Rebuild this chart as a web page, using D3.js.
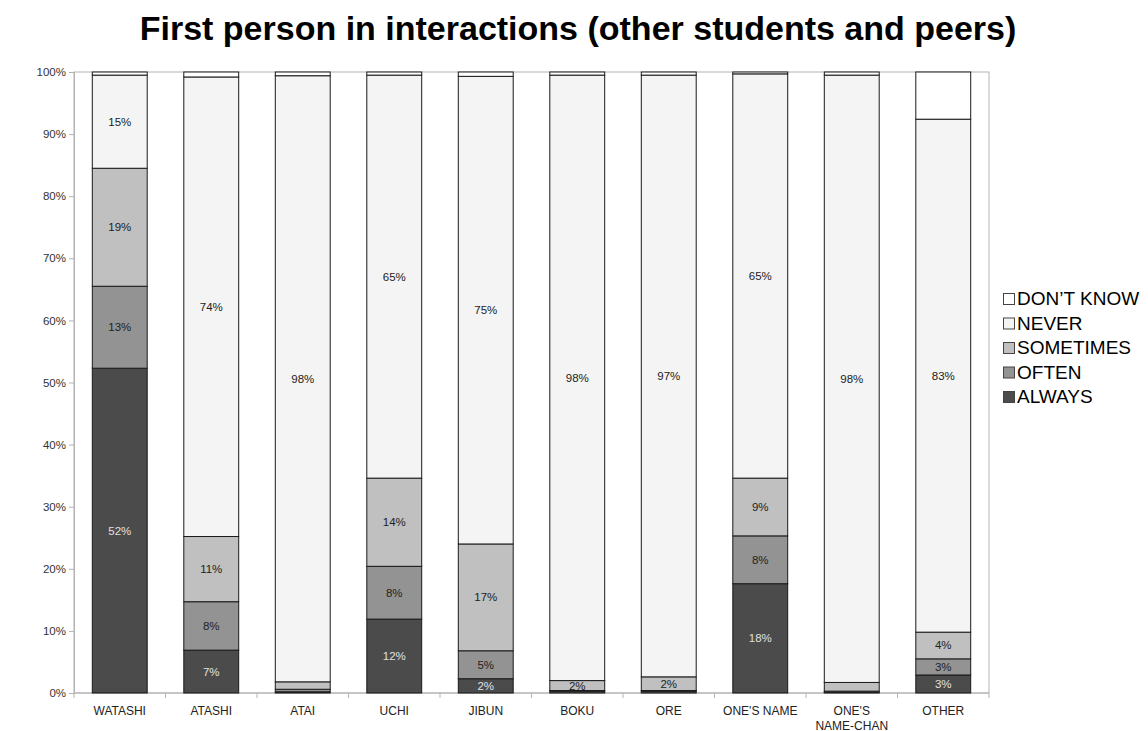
<!DOCTYPE html>
<html>
<head>
<meta charset="utf-8">
<script src="https://cdn.jsdelivr.net/npm/d3@7/dist/d3.min.js"></script>
<style>
  html, body { margin: 0; padding: 0; background: #fff; }
  svg { display: block; font-family: "Liberation Sans", Arial, sans-serif; }
</style>
</head>
<body>
<svg id="chart" width="1148" height="731"></svg>
<script>
// Pronoun categories (x axis)
const categories = ["WATASHI", "ATASHI", "ATAI", "UCHI", "JIBUN", "BOKU", "ORE", "ONE'S NAME", "ONE'S\nNAME-CHAN", "OTHER"];

// Share of respondents per answer, in percent (stacked bottom to top)
const always    = [52.3, 6.9, 0.2, 11.9, 2.3, 0.3, 0.3, 17.6, 0.1, 2.9];
const often     = [13.2, 7.8, 0.4, 8.5, 4.5, 0.1, 0.1, 7.7, 0.2, 2.6];
const sometimes = [19.0, 10.5, 1.2, 14.2, 17.2, 1.6, 2.2, 9.3, 1.4, 4.3];
const never     = [15.0, 74.0, 97.6, 64.9, 75.3, 97.5, 96.9, 65.1, 97.8, 82.6];
const dontKnow  = [0.5, 0.8, 0.6, 0.5, 0.7, 0.5, 0.5, 0.3, 0.5, 7.6];

const seriesNames = ["ALWAYS", "OFTEN", "SOMETIMES", "NEVER", "DON’T KNOW"];
const seriesValues = [always, often, sometimes, never, dontKnow];
const seriesColors = ["#4b4b4b", "#939393", "#c0c0c0", "#f4f4f4", "#ffffff"];
const labelColors  = ["#e0e0e0", "#222", "#222", "#222", "#222"];

const yTicks = [0, 10, 20, 30, 40, 50, 60, 70, 80, 90, 100];

const svg = d3.select("#chart");
const plotLeft = 74, plotRight = 989, plotTop = 72, plotBottom = 693;

const x = d3.scaleBand().domain(categories).range([plotLeft, plotRight]).paddingInner(0.4).paddingOuter(0.2);
const xBand = d3.scaleBand().domain(categories).range([plotLeft, plotRight]);
const y = d3.scaleLinear().domain([0, 100]).range([plotBottom, plotTop]);

// Title
svg.append("text")
  .attr("x", 578).attr("y", 40)
  .attr("text-anchor", "middle")
  .attr("font-size", 34).attr("font-weight", "bold").attr("fill", "#000")
  .text("First person in interactions (other students and peers)");

// Plot frame
const frameColor = "#b3b3b3";
svg.append("rect")
  .attr("x", plotLeft).attr("y", plotTop)
  .attr("width", plotRight - plotLeft).attr("height", plotBottom - plotTop)
  .attr("fill", "none").attr("stroke", frameColor).attr("stroke-width", 1);

// Y axis
const yAxis = d3.axisLeft(y).tickValues(yTicks).tickFormat(d => d + "%").tickSize(5).tickPadding(3);
const gy = svg.append("g").attr("transform", `translate(${plotLeft},0)`).call(yAxis);
gy.select(".domain").attr("stroke", frameColor);
gy.selectAll(".tick line").attr("stroke", frameColor);
gy.selectAll(".tick text").attr("font-size", 11.5).attr("fill", "#333").attr("font-family", "Liberation Sans, Arial, sans-serif");

// X axis: ticks at band boundaries
const gx = svg.append("g").attr("transform", `translate(0,${plotBottom})`);
gx.append("line").attr("x1", plotLeft).attr("x2", plotRight).attr("stroke", frameColor);
const boundaries = categories.map(c => xBand(c)).concat([plotRight]);
gx.selectAll("line.tk").data(boundaries).join("line")
  .attr("class", "tk")
  .attr("x1", d => d).attr("x2", d => d)
  .attr("y1", 0).attr("y2", 5)
  .attr("stroke", frameColor);
gx.selectAll("text.cat").data(categories).join("text")
  .attr("class", "cat")
  .attr("x", d => xBand(d) + xBand.bandwidth() / 2)
  .attr("y", 22)
  .attr("text-anchor", "middle")
  .attr("font-size", 12).attr("fill", "#222")
  .each(function (d) {
    const lines = d.split("\n");
    d3.select(this).selectAll("tspan").data(lines).join("tspan")
      .attr("x", xBand(d) + xBand.bandwidth() / 2)
      .attr("dy", (l, i) => i === 0 ? 0 : 14.5)
      .text(l => l);
  });

// Stack the series
const rows = categories.map((c, i) => {
  const r = { cat: c };
  seriesNames.forEach((s, k) => r[s] = seriesValues[k][i]);
  return r;
});
const stacked = d3.stack().keys(seriesNames)(rows);

const layers = svg.append("g").selectAll("g").data(stacked).join("g")
  .attr("fill", (d, k) => seriesColors[k]);

layers.selectAll("rect").data(d => d).join("rect")
  .attr("x", d => x(d.data.cat))
  .attr("width", x.bandwidth())
  .attr("y", d => y(d[1]))
  .attr("height", d => y(d[0]) - y(d[1]))
  .attr("stroke", "#1a1a1a").attr("stroke-width", 1);

// Value labels
stacked.forEach((layer, k) => {
  if (seriesNames[k] === "DON’T KNOW") return;
  svg.append("g").selectAll("text").data(layer.filter(d => Math.round(d[1] - d[0]) >= 2)).join("text")
    .attr("x", d => x(d.data.cat) + x.bandwidth() / 2)
    .attr("y", d => (y(d[0]) + y(d[1])) / 2 + 4)
    .attr("text-anchor", "middle")
    .attr("font-size", 11.5)
    .attr("fill", labelColors[k])
    .text(d => Math.round(d[1] - d[0]) + "%");
});

// Legend (top entry is the top of the stack)
const legendOrder = seriesNames.map((s, k) => k).reverse();
const legend = svg.append("g").attr("transform", "translate(1003,291)");
legendOrder.forEach((k, i) => {
  const g = legend.append("g").attr("transform", `translate(0,${i * 24.5})`);
  g.append("rect").attr("x", 0.5).attr("y", 2.5).attr("width", 11).attr("height", 11)
    .attr("fill", seriesColors[k]).attr("stroke", "#444").attr("stroke-width", 1);
  g.append("text").attr("x", 14).attr("y", 14)
    .attr("font-size", 19).attr("fill", "#000")
    .text(seriesNames[k]);
});
</script>
</body>
</html>
